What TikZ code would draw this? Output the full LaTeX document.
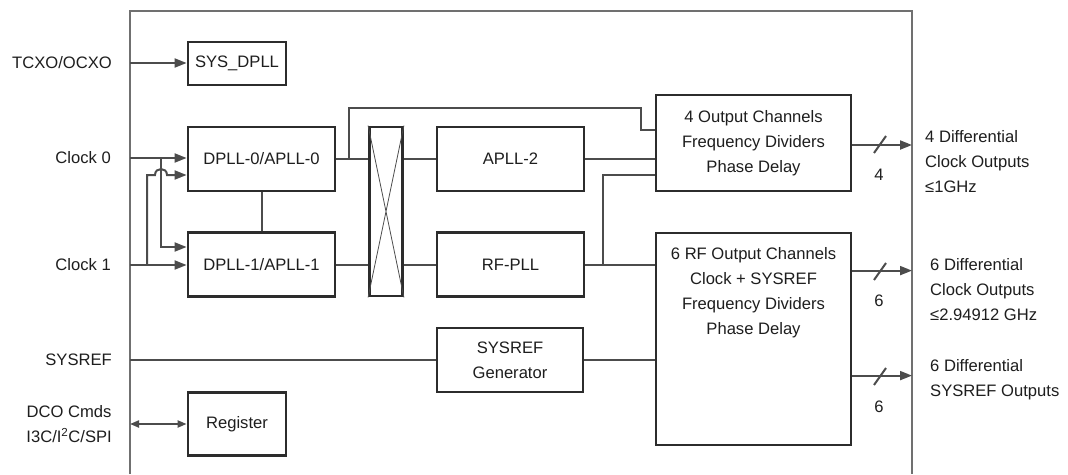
\documentclass[tikz,border=0pt]{standalone}
\usepackage{fontspec}
\setmainfont{Liberation Sans}
\usetikzlibrary{arrows.meta,positioning,calc}
\definecolor{boxc}{HTML}{2C2C2C}
\definecolor{wirec}{HTML}{4C4C4C}
\definecolor{framec}{HTML}{707070}
\definecolor{txtc}{HTML}{1E1E1E}

\begin{document}
\begin{tikzpicture}[x=1pt,y=-1pt,
    font=\fontsize{16.6}{25}\selectfont,
    blk/.style 2 args={draw=boxc, line width=2.8pt, inner sep=0pt, text=txtc, align=center,
      minimum width=#1pt, minimum height=#2pt},
    wire/.style={draw=wirec, line width=2pt},
    tip/.style={-{Triangle[length=12pt,width=9pt]}},
    lbl/.style={text=txtc, align=center, anchor=east, inner sep=0pt},
    outlbl/.style={text=txtc, align=left, anchor=west, inner sep=0pt}]
    \useasboundingbox (0,0) rectangle (1068,474);
    \fill[white] (0,0) rectangle (1068,474);

    % Chip outline
    \draw[framec, line width=1.7pt] (130,474) -- (130,11) -- (912,11) -- (912,474);
    \coordinate (fl) at (130,0);
    \coordinate (fr) at (912,0);

    % Blocks
    \node[blk={98}{43}] (sysdpll) at (237,63.5) {SYS\_DPLL};
    \node[blk={147}{64}] (dpll0) at (261.5,159) {DPLL-0/APLL-0};
    \node[blk={147}{64}] (dpll1) at (261.5,264.5) {DPLL-1/APLL-1};
    \node[blk={33}{169}] (xbar) at (386,211.5) {};
    \node[blk={147}{64}] (apll2) at (510.5,159) {APLL-2};
    \node[blk={147}{64}] (rfpll) at (510.5,264.5) {RF-PLL};
    \node[blk={195}{96}] (outfour) at (753.5,143)
      {4 Output Channels\\Frequency Dividers\\Phase Delay};
    \node[blk={195}{212},
      label={[anchor=north, inner sep=0pt, yshift=-16pt, text=txtc, align=center]north:%
        6 RF Output Channels\\Clock + SYSREF\\Frequency Dividers\\Phase Delay}]
      (outrf) at (753.5,339) {};
    \node[blk={146}{64}] (srgen) at (510,360) {SYSREF\\Generator};
    \node[blk={98}{63}] (reg) at (237,424) {Register};

    % Crossbar
    \draw[wirec, line width=0.8pt] (xbar.north west) -- (xbar.south east)
      (xbar.north east) -- (xbar.south west);

    % Inputs
    \node[lbl] (tcxo) at (112,63) {TCXO/OCXO};
    \node[lbl] (clk0) at (111,158) {Clock 0};
    \node[lbl] (clk1) at (111,265) {Clock 1};
    \node[lbl] (sysref) at (112,360) {SYSREF};
    \node[lbl] (dco) at (112,424) {DCO Cmds\\I3C/I\textsuperscript{2}C/SPI};

    \draw[wire,tip] (tcxo -| fl) -- (tcxo -| sysdpll.west);
    \draw[wire,tip] (clk0 -| fl) -- (clk0 -| dpll0.west);
    \draw[wire,tip] (clk1 -| fl) -- (clk1 -| dpll1.west);
    \coordinate (b0) at (161,158);
    \coordinate (b1) at (147,265);
    \draw[wire,tip] (b0) |- ($(dpll1.west)+(0,-17.5)$);
    \draw[wire,tip] (b1) -- (147,175) -- (155,175)
      .. controls (155,167) and (167,167) .. (167,175) -- ($(dpll0.west)+(0,16)$);
    \draw[wire] (dpll0.south) -- (dpll1.north);
    \draw[wire] (sysref -| fl) -- (srgen.west);
    \draw[wire,{Triangle[length=9pt,width=7pt]}-{Triangle[length=9pt,width=7pt]}]
      (dco -| fl) -- (reg.west);

    % Through the crossbar
    \draw[wire] (dpll0.east) -- (xbar.west |- dpll0.east);
    \draw[wire] (dpll1.east) -- (xbar.west |- dpll1.east);
    \draw[wire] (xbar.east |- apll2.west) -- (apll2.west);
    \draw[wire] (xbar.east |- rfpll.west) -- (rfpll.west);
    \draw[wire] ($(dpll0.east)+(13,0)$) -- ++(0,-51) -| ($(outfour.west)+(-14,-13)$)
      -- ($(outfour.west)+(0,-13)$);
    \draw[wire] (apll2.east) -- (outfour.west |- apll2.east);
    \draw[wire] (rfpll.east) -- (outrf.west |- rfpll.east);
    \draw[wire] (603,264.5) |- ($(outfour.west)+(0,32)$);
    \draw[wire] (srgen.east) -- (outrf.west |- srgen.east);

    % Outputs
    \draw[wire,tip] ($(outfour.east)+(0,2)$) coordinate (o1) -- (o1 -| fr);
    \draw[wire,tip] ($(outrf.north east)+(0,39)$) coordinate (o2) -- (o2 -| fr);
    \draw[wire,tip] ($(outrf.north east)+(0,144)$) coordinate (o3) -- (o3 -| fr);
    \draw[wire] (880,145) ++(-6,8) -- ++(12,-17);
    \draw[wire] (880,272) ++(-6,8) -- ++(12,-17);
    \draw[wire] (880,377) ++(-6,8) -- ++(12,-17);
    \node[text=txtc] (n1) at (879,175) {4};
    \node[text=txtc] (n2) at (879,301) {6};
    \node[text=txtc] (n3) at (879,407) {6};

    \node[outlbl] (out1) at (925,162) {4 Differential\\Clock Outputs\\≤1GHz};
    \node[outlbl] (out2) at (930,289.5) {6 Differential\\Clock Outputs\\≤2.94912 GHz};
    \node[outlbl] (out3) at (930,379.5) {6 Differential\\SYSREF Outputs};
\end{tikzpicture}
\end{document}
